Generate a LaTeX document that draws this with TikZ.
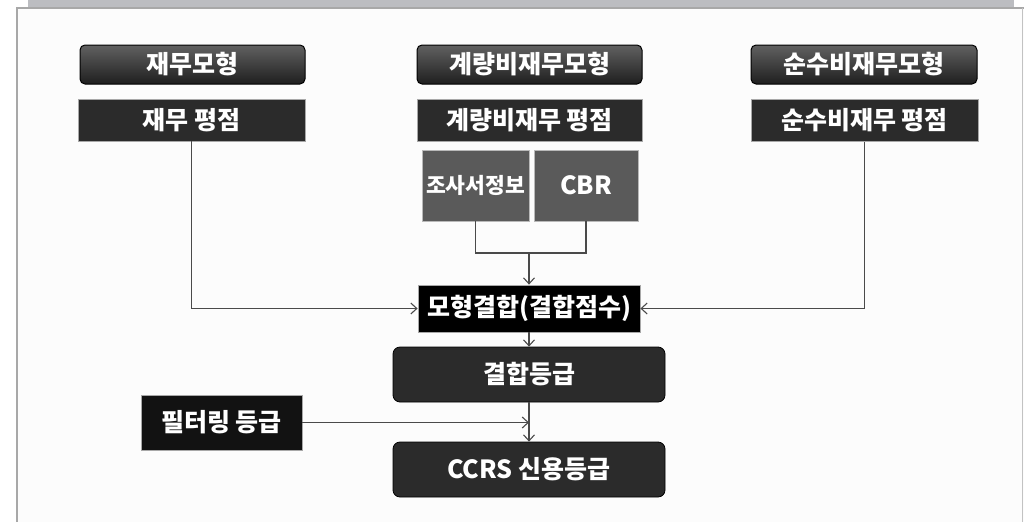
\documentclass[tikz,border=0pt]{standalone}
\usepackage{fontspec}
\newfontfamily\kr{Noto Sans CJK KR}
\usetikzlibrary{arrows.meta}
\definecolor{bandgray}{HTML}{BCBDC1}
\definecolor{edgegray}{HTML}{A8A8A8}
\definecolor{linegray}{HTML}{4A4A4A}
\definecolor{boxdark}{HTML}{2B2B2B}
\definecolor{boxmid}{HTML}{5A5A5A}
\tikzset{
  lbl/.style={font=\kr\bfseries\fontsize{25}{28}\selectfont, text=white, inner sep=0pt, align=center},
  header/.style={lbl, rounded corners=5pt, draw=black, line width=1pt, top color=black!62, bottom color=black!88, minimum height=39pt},
  score/.style={lbl, fill=boxdark, draw=edgegray, line width=0.8pt, minimum height=42pt},
  sub/.style={lbl, fill=boxmid, draw=edgegray!80, line width=0.8pt, minimum height=71pt},
  combine/.style={lbl, fill=black, draw=edgegray, line width=0.8pt},
  grade/.style={lbl, rounded corners=7pt, fill=boxdark, draw=black, line width=0.8pt, minimum width=272pt, minimum height=55pt},
  conn/.style={draw=linegray, line width=1.4pt},
  arr/.style={conn, -{Straight Barb[length=6pt,width=11pt,line width=1.1pt]}},
}
\begin{document}
\begin{tikzpicture}[x=1pt,y=-1pt]
\useasboundingbox (0,0) rectangle (1024,522);
% frame
\fill[bandgray] (28,0) rectangle (1014,7);
\fill[white!99!black] (17,7) rectangle (1024,522);
\draw[edgegray, line width=2pt] (17,522) -- (17,7.5) -- (1024,7.5);
\draw[edgegray!70, line width=1pt] (1022.5,7.5) -- (1022.5,522);

% top row
\node[header, minimum width=225pt] (fm) at (192.5,64.5) {재무모형};
\node[header, minimum width=225pt] (qm) at (529.5,64.5) {계량비재무모형};
\node[header, minimum width=226pt] (pm) at (864,64.5) {순수비재무모형};

\node[score, minimum width=227pt] (fs) at (191.5,120) {재무 평점};
\node[score, minimum width=225pt] (qs) at (529.5,120) {계량비재무 평점};
\node[score, minimum width=227pt] (ps) at (864.5,120.5) {순수비재무 평점};

\node[sub, minimum width=107pt, font=\kr\bfseries\fontsize{21.5}{24}\selectfont] (info) at (475.5,185.5) {조사서정보};
\node[sub, minimum width=104pt] (cbr) at (586,185.5) {CBR};

\node[combine, minimum width=222pt, minimum height=47pt] (comb) at (529,308.5) {모형결합(결합점수)};
\node[grade] (cg) at (529,374.5) {결합등급};
\node[score, fill=black!93, minimum width=161pt, minimum height=55pt] (filt) at (221.5,422.5) {필터링 등급};
\node[grade] (ccrs) at (529,469.5) {CCRS 신용등급};

\coordinate (j) at (529,253);
\coordinate (fmid) at (529,422.5);

% connectors
\draw[conn] (info.south) |- (j) -| (cbr.south);
\draw[arr] (j) -- (comb.north);
\draw[arr] (fs.south) |- (comb.west);
\draw[arr] (ps.south) |- (comb.east);
\draw[arr] (comb.south) -- (cg.north);
\draw[arr] (cg.south) -- (ccrs.north);
\draw[arr] (filt.east) -- (fmid);
\end{tikzpicture}
\end{document}
